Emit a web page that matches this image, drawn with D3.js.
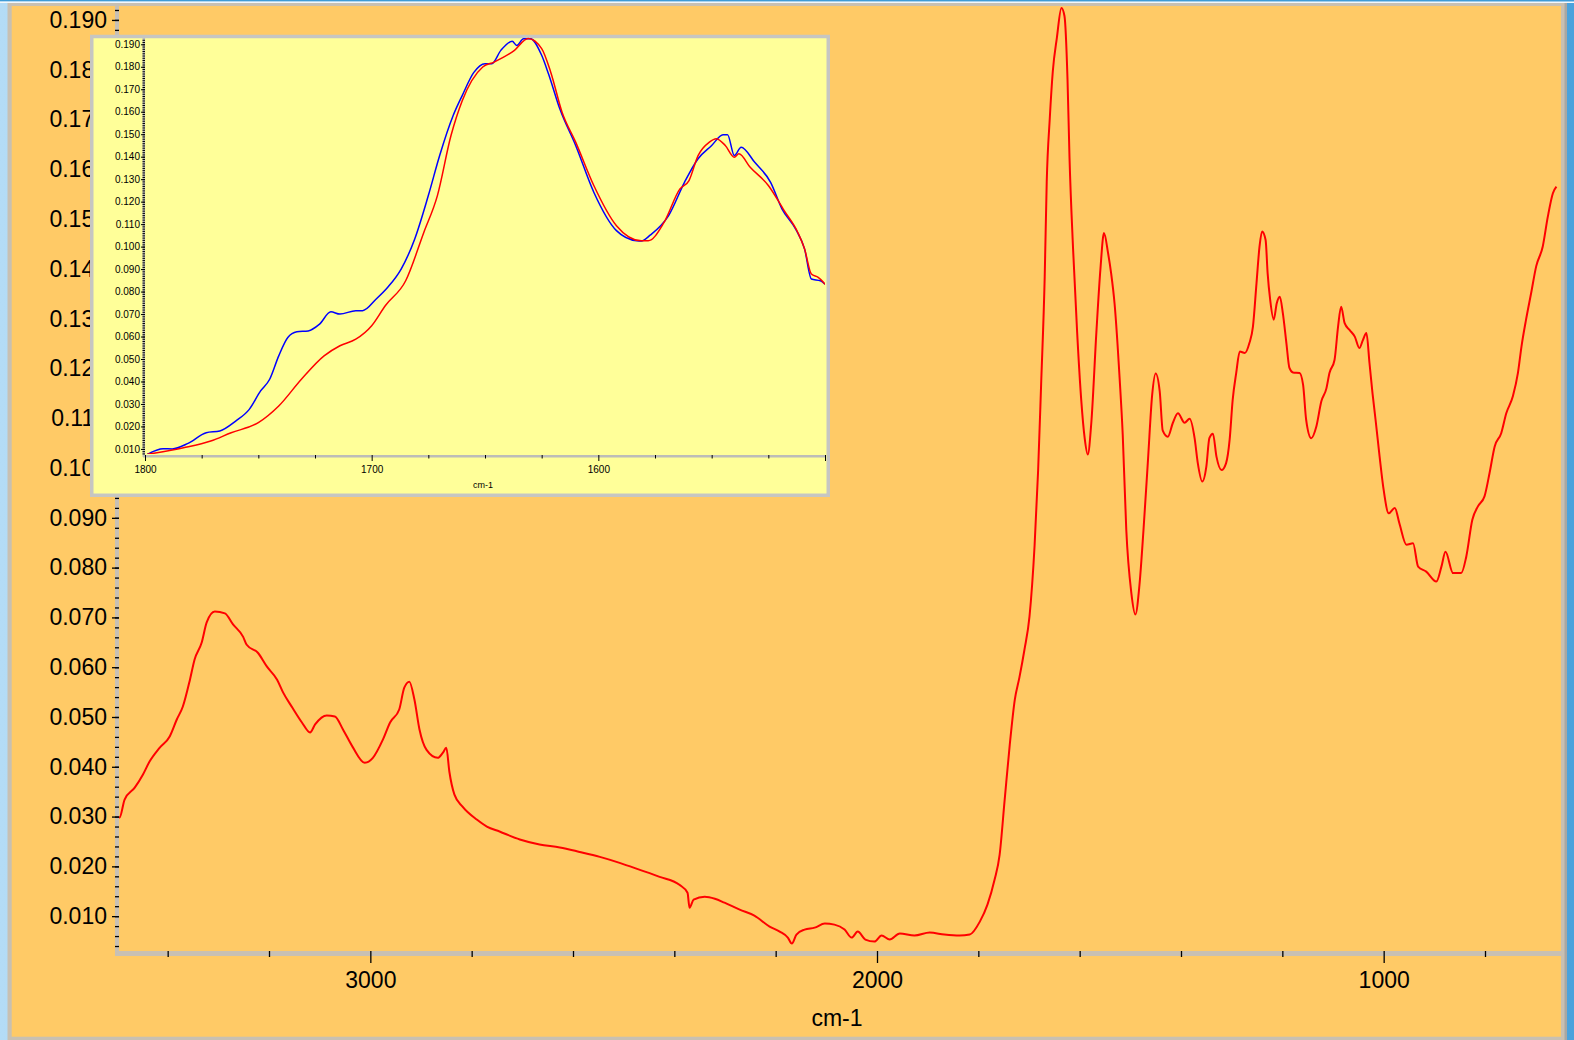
<!DOCTYPE html>
<html>
<head>
<meta charset="utf-8">
<script src="https://cdn.jsdelivr.net/npm/d3@7"></script>
<style>
  html, body { margin: 0; padding: 0; overflow: hidden; }
  body { width: 1574px; height: 1040px; background: #a8d6f4; }
  text { font-family: "Liberation Sans", Arial, sans-serif; fill: #000; }
</style>
</head>
<body>
<div id="chart"></div>
<script>
// main spectrum (cm-1 / absorbance)
const spectrumWn = [3500, 3495, 3485, 3465, 3449, 3436, 3416, 3396, 3382, 3370, 3356, 3347, 3333, 3323, 3307, 3287, 3271, 3251, 3244, 3222,
  3204, 3184, 3172, 3154, 3135, 3119, 3109, 3086, 3070, 3054, 3035, 3011, 2995, 2975, 2961, 2943, 2933, 2923, 2913, 2903,
  2889, 2867, 2857, 2850, 2844, 2834, 2818, 2790, 2770, 2745, 2705, 2666, 2626, 2587, 2547, 2508, 2468, 2429, 2390, 2374,
  2370, 2362, 2340, 2320, 2301, 2271, 2242, 2212, 2192, 2176, 2168, 2159, 2143, 2123, 2103, 2084, 2064, 2050, 2038, 2023,
  2005, 1991, 1975, 1955, 1926, 1896, 1867, 1837, 1817, 1797, 1782, 1768, 1758, 1748, 1738, 1728, 1719, 1709, 1699, 1689,
  1682, 1676, 1669, 1665, 1659, 1653, 1645, 1636, 1630, 1624, 1620, 1613, 1605, 1597, 1590, 1584, 1577, 1567, 1559, 1552,
  1544, 1538, 1531, 1521, 1515, 1508, 1498, 1490, 1482, 1474, 1465, 1457, 1450, 1442, 1436, 1426, 1416, 1406, 1393, 1383,
  1373, 1367, 1358, 1350, 1344, 1337, 1330, 1320, 1311, 1304, 1298, 1291, 1284, 1274, 1265, 1258, 1251, 1245, 1240, 1233,
  1229, 1224, 1217, 1211, 1205, 1199, 1192, 1186, 1179, 1166, 1159, 1153, 1143, 1133, 1123, 1113, 1107, 1097, 1090, 1084,
  1077, 1067, 1057, 1048, 1041, 1034, 1028, 1022, 1016, 1008, 1000, 990, 978, 969, 955, 942, 932, 916, 896, 886,
  878, 863, 847, 837, 825, 814, 801, 791, 781, 768, 758, 745, 735, 728, 719, 709, 699, 686, 676, 666, 659]
const spectrumAbs = [0.0304, 0.0298, 0.0334, 0.0358, 0.0384, 0.0410, 0.0438, 0.0461, 0.0495, 0.0521, 0.0575, 0.0615, 0.0649, 0.0690, 0.0712, 0.0708, 0.0686, 0.0661, 0.0645, 0.0629,
  0.0601, 0.0575, 0.0549, 0.0519, 0.0489, 0.0469, 0.0485, 0.0503, 0.0501, 0.0475, 0.0440, 0.0408, 0.0418, 0.0455, 0.0489, 0.0515, 0.0559, 0.0571, 0.0535, 0.0475,
  0.0434, 0.0418, 0.0428, 0.0438, 0.0390, 0.0344, 0.0320, 0.0294, 0.0280, 0.0270, 0.0254, 0.0244, 0.0238, 0.0229, 0.0219, 0.0207, 0.0193, 0.0179, 0.0163, 0.0147,
  0.0117, 0.0133, 0.0139, 0.0135, 0.0127, 0.0113, 0.0101, 0.0079, 0.0069, 0.0057, 0.0045, 0.0063, 0.0073, 0.0077, 0.0085, 0.0083, 0.0073, 0.0057, 0.0069, 0.0053,
  0.0049, 0.0061, 0.0053, 0.0065, 0.0061, 0.0067, 0.0063, 0.0061, 0.0063, 0.0089, 0.0123, 0.0173, 0.0223, 0.0334, 0.0444, 0.0535, 0.0579, 0.0635, 0.0702, 0.0844,
  0.0995, 0.1170, 0.1384, 0.1575, 0.1702, 0.1797, 0.1864, 0.1924, 0.1908, 0.1781, 0.1622, 0.1440, 0.1273, 0.1138, 0.1059, 0.1027, 0.1091, 0.1273, 0.1400, 0.1472,
  0.1432, 0.1392, 0.1329, 0.1178, 0.1067, 0.0876, 0.0749, 0.0706, 0.0765, 0.0876, 0.1019, 0.1146, 0.1190, 0.1154, 0.1075, 0.1063, 0.1091, 0.1110, 0.1091, 0.1099,
  0.1059, 0.1011, 0.0973, 0.1003, 0.1060, 0.1069, 0.1023, 0.0996, 0.1010, 0.1057, 0.1137, 0.1191, 0.1234, 0.1231, 0.1251, 0.1284, 0.1371, 0.1445, 0.1475, 0.1458,
  0.1391, 0.1338, 0.1298, 0.1331, 0.1344, 0.1311, 0.1251, 0.1201, 0.1192, 0.1191, 0.1167, 0.1097, 0.1060, 0.1083, 0.1134, 0.1160, 0.1191, 0.1217, 0.1284, 0.1324,
  0.1291, 0.1277, 0.1264, 0.1241, 0.1257, 0.1271, 0.1211, 0.1150, 0.1097, 0.1023, 0.0956, 0.0909, 0.0920, 0.0889, 0.0846, 0.0849, 0.0802, 0.0792, 0.0772, 0.0802,
  0.0832, 0.0789, 0.0789, 0.0822, 0.0896, 0.0923, 0.0943, 0.0990, 0.1043, 0.1070, 0.1110, 0.1144, 0.1191, 0.1244, 0.1298, 0.1351, 0.1405, 0.1445, 0.1505, 0.1552, 0.1565]

// inset: two spectra, 1800-1500 cm-1
const insetRedWn = [1799, 1783, 1771, 1762, 1750, 1741, 1731, 1721, 1714, 1707, 1700, 1694, 1685, 1677, 1671, 1665, 1660, 1651, 1646, 1637,
  1631, 1625, 1621, 1616, 1610, 1602, 1592, 1581, 1578, 1571, 1564, 1560, 1556, 1551, 1548, 1544, 1540, 1538, 1533, 1525,
  1518, 1512, 1509, 1506, 1503, 1500]
const insetRedAbs = [0.0076, 0.0105, 0.0135, 0.0172, 0.0217, 0.0291, 0.0410, 0.0514, 0.0559, 0.0588, 0.0648, 0.0737, 0.0848, 0.1063, 0.1227, 0.1494, 0.1650, 0.1799, 0.1821, 0.1873,
  0.1926, 0.1881, 0.1776, 0.1598, 0.1465, 0.1272, 0.1093, 0.1026, 0.1026, 0.1108, 0.1257, 0.1294, 0.1405, 0.1465, 0.1480, 0.1450, 0.1398, 0.1413, 0.1353, 0.1272,
  0.1160, 0.1063, 0.0989, 0.0878, 0.0863, 0.0833]
const insetBlueWn = [1799, 1792, 1788, 1781, 1773, 1767, 1760, 1754, 1749, 1745, 1741, 1737, 1733, 1728, 1723, 1718, 1714, 1707, 1704, 1698,
  1693, 1687, 1681, 1675, 1670, 1664, 1660, 1655, 1650, 1647, 1643, 1638, 1636, 1633, 1630, 1625, 1622, 1617, 1610, 1602,
  1592, 1583, 1581, 1577, 1569, 1562, 1556, 1550, 1545, 1543, 1540, 1537, 1531, 1524, 1519, 1513, 1509, 1506, 1502, 1500]
const insetBlueAbs = [0.0076, 0.0101, 0.0100, 0.0125, 0.0172, 0.0180, 0.0224, 0.0276, 0.0358, 0.0410, 0.0514, 0.0596, 0.0621, 0.0625, 0.0655, 0.0710, 0.0700, 0.0715, 0.0715, 0.0767,
  0.0818, 0.0900, 0.1034, 0.1227, 0.1405, 0.1584, 0.1673, 0.1774, 0.1814, 0.1814, 0.1873, 0.1913, 0.1895, 0.1925, 0.1925, 0.1851, 0.1769, 0.1613, 0.1450, 0.1242,
  0.1071, 0.1026, 0.1025, 0.1052, 0.1138, 0.1286, 0.1391, 0.1450, 0.1498, 0.1498, 0.1405, 0.1442, 0.1375, 0.1286, 0.1168, 0.1079, 0.0989, 0.0856, 0.0848, 0.0833]

// ticks
const mainYTicks = d3.range(1, 20).map(i => i / 100)            // 0.010 .. 0.190
const mainYMinor = d3.range(2, 97).map(i => i * 2 / 1000)        // every 0.002
const mainXTickLabels = [3000, 2000, 1000]
const mainXMinor = [3400, 3200, 2800, 2600, 2400, 2200, 1800, 1600, 1400, 1200, 800]
const insetYTicks = d3.range(1, 20).map(i => i / 100)
const insetYMinor = d3.range(8, 193).map(i => i / 1000)          // every 0.001
const insetXTicks = [1800, 1700, 1600, 1500]
const insetXTickLabels = [1800, 1700, 1600]
const insetXMinor = [1775, 1750, 1725, 1675, 1650, 1625, 1575, 1550, 1525]

//Dimension
const dims = { width: 1574, height: 1040 }
const plot = { left: 117, right: 1561, top: 6, bottom: 951 }
const inset = { left: 145, right: 825, top: 38, bottom: 455 }

const svg = d3.select("#chart")
  .append("svg")
  .attr("width", dims.width)
  .attr("height", dims.height)

// window frame
const grad = svg.append("defs").append("linearGradient").attr("id", "bg")
grad.append("stop").attr("offset", "0%").attr("stop-color", "#b4dcf6")
grad.append("stop").attr("offset", "100%").attr("stop-color", "#4aa2dc")
svg.append("rect").attr("width", dims.width).attr("height", dims.height).attr("fill", "url(#bg)")
svg.append("rect").attr("width", dims.width).attr("height", 1.5).attr("fill", "#3f9bd6")
svg.append("rect").attr("y", 1.5).attr("width", dims.width).attr("height", 1.5).attr("fill", "#f4f8fb")
svg.append("rect").attr("x", 7.5).attr("y", 3).attr("width", 1559.5).attr("height", 1037).attr("fill", "#c8c0b2")
svg.append("rect").attr("x", 1564.5).attr("y", 3).attr("width", 2.5).attr("height", 1037).attr("fill", "#aaa7a2")
svg.append("rect").attr("x", 11.7).attr("y", 6).attr("width", 1549.3).attr("height", 1030.7).attr("fill", "#ffca66")

//Scales
const xScale = d3.scaleLinear().domain([3500, 650]).range([plot.left, plot.right])
const yScale = d3.scaleLinear().domain([0.003, 0.1928]).range([plot.bottom, plot.top])

// gray axis bars
svg.append("line").attr("x1", 117).attr("x2", 117).attr("y1", plot.top).attr("y2", 956)
  .attr("stroke", "#c8c0b4").attr("stroke-width", 4)
svg.append("line").attr("x1", 115).attr("x2", plot.right).attr("y1", 953.5).attr("y2", 953.5)
  .attr("stroke", "#c8c0b4").attr("stroke-width", 5)

// Y axis
const yAxisMinor = svg.append("g").attr("transform", "translate(119,0)")
  .call(d3.axisLeft(yScale).tickValues(mainYMinor).tickSize(4).tickFormat(""))
const yAxisGroup = svg.append("g").attr("transform", "translate(119,0)")
  .call(d3.axisLeft(yScale).tickValues(mainYTicks).tickSize(7).tickPadding(5).tickFormat(d3.format(".3f")))
yAxisGroup.selectAll("text").attr("font-size", "23px")

// X axis
const xAxisMinor = svg.append("g").attr("transform", `translate(0,${plot.bottom})`)
  .call(d3.axisBottom(xScale).tickValues(mainXMinor).tickSize(6).tickFormat(""))
const xAxisGroup = svg.append("g").attr("transform", `translate(0,${plot.bottom})`)
  .call(d3.axisBottom(xScale).tickValues(mainXTickLabels).tickSize(12).tickPadding(9).tickFormat(d3.format("d")))
xAxisGroup.selectAll("text").attr("font-size", "23px")

svg.selectAll(".domain").remove()
svg.selectAll(".tick line").attr("stroke", "#000").attr("stroke-width", 1.3)
svg.selectAll(".tick text").attr("font-family", "Liberation Sans, Arial, sans-serif").attr("fill", "#000")

svg.append("text")
  .attr("x", (plot.left + plot.right) / 2 - 2)
  .attr("y", 1026)
  .attr("font-size", "23px")
  .attr("text-anchor", "middle")
  .text("cm-1")

// main line
svg.append("clipPath").attr("id", "clipMain").append("rect")
  .attr("x", plot.left + 2).attr("y", plot.top).attr("width", plot.right - plot.left - 2).attr("height", plot.bottom - plot.top)

const spectrum = spectrumWn.map((w, i) => ({ wn: w, abs: spectrumAbs[i] }))
const mainLine = d3.line().curve(d3.curveMonotoneX).x(d => xScale(d.wn)).y(d => yScale(d.abs))

svg.append("path")
  .datum(spectrum)
  .attr("clip-path", "url(#clipMain)")
  .attr("fill", "none")
  .attr("stroke", "#ff0000")
  .attr("stroke-width", 2)
  .attr("d", mainLine)

//Inset
const ins = svg.append("g")
ins.append("rect")
  .attr("x", 91.75).attr("y", 36.5).attr("width", 736.5).attr("height", 458.75)
  .attr("fill", "#ffff99").attr("stroke", "#c6c6c2").attr("stroke-width", 3.5)

const ixScale = d3.scaleLinear().domain([1800, 1500]).range([inset.left, inset.right])
const iyScale = d3.scaleLinear().domain([0.0073, 0.1928]).range([inset.bottom, inset.top])

ins.append("line").attr("x1", 143.8).attr("x2", 143.8).attr("y1", inset.top).attr("y2", 457)
  .attr("stroke", "#bdbdb8").attr("stroke-width", 2.5)
ins.append("line").attr("x1", 143).attr("x2", inset.right).attr("y1", 456.2).attr("y2", 456.2)
  .attr("stroke", "#bdbdb8").attr("stroke-width", 2.5)

ins.append("g").attr("transform", `translate(${inset.left},0)`)
  .call(d3.axisLeft(iyScale).tickValues(insetYMinor).tickSize(2.5).tickFormat(""))
const iyAxis = ins.append("g").attr("transform", `translate(${inset.left},0)`)
  .call(d3.axisLeft(iyScale).tickValues(insetYTicks).tickSize(4).tickPadding(1).tickFormat(d3.format(".3f")))
iyAxis.selectAll("text").attr("font-size", "10px")

ins.append("g").attr("transform", `translate(0,${inset.bottom})`)
  .call(d3.axisBottom(ixScale).tickValues(insetXMinor).tickSize(3.5).tickFormat(""))
const ixAxis = ins.append("g").attr("transform", `translate(0,${inset.bottom})`)
  .call(d3.axisBottom(ixScale).tickValues(insetXTicks).tickSize(6).tickPadding(5)
    .tickFormat(d => insetXTickLabels.includes(d) ? d : ""))
ixAxis.selectAll("text").attr("font-size", "10px")

ins.selectAll(".domain").remove()
ins.selectAll(".tick line").attr("stroke", "#000").attr("stroke-width", 1)
ins.selectAll(".tick text").attr("fill", "#000")

ins.append("text")
  .attr("x", (inset.left + inset.right) / 2 - 2)
  .attr("y", 488)
  .attr("font-size", "9px")
  .attr("text-anchor", "middle")
  .text("cm-1")

svg.append("clipPath").attr("id", "clipInset").append("rect")
  .attr("x", inset.left + 1).attr("y", inset.top - 2).attr("width", inset.right - inset.left - 1).attr("height", inset.bottom - inset.top + 1)

const insetLine = d3.line().curve(d3.curveMonotoneX).x(d => ixScale(d.wn)).y(d => iyScale(d.abs))
const blue = insetBlueWn.map((w, i) => ({ wn: w, abs: insetBlueAbs[i] }))
const red = insetRedWn.map((w, i) => ({ wn: w, abs: insetRedAbs[i] }))

ins.append("path").datum(blue)
  .attr("clip-path", "url(#clipInset)")
  .attr("fill", "none").attr("stroke", "#0000ff").attr("stroke-width", 1.5)
  .attr("d", insetLine)
ins.append("path").datum(red)
  .attr("clip-path", "url(#clipInset)")
  .attr("fill", "none").attr("stroke", "#ff0000").attr("stroke-width", 1.5)
  .attr("d", insetLine)
</script>
</body>
</html>
